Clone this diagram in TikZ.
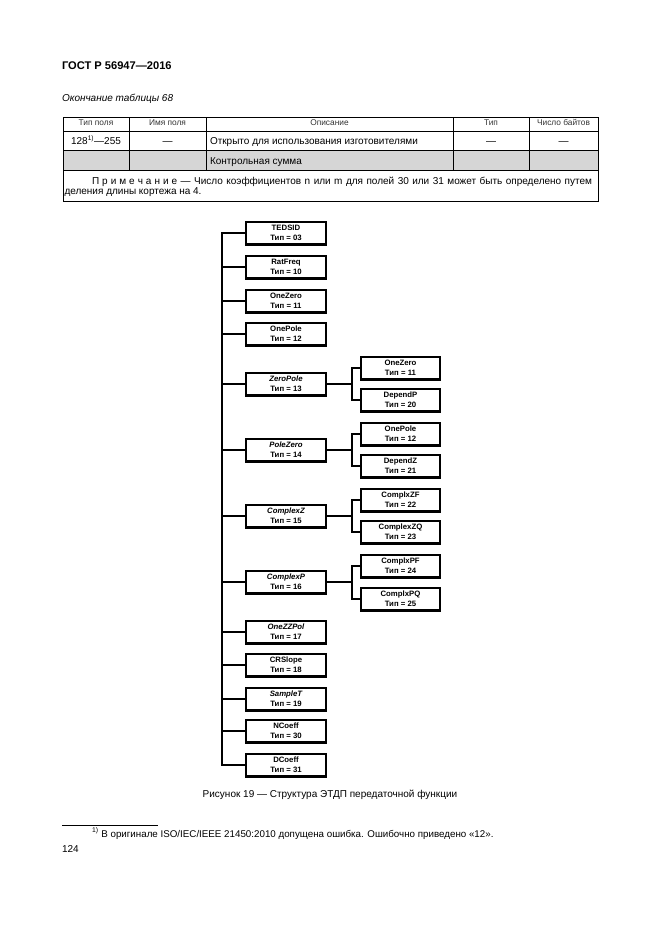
\documentclass[tikz,border=0pt]{standalone}
\usepackage{fontspec}
\setmainfont{Liberation Sans}
\newcommand\lsp{\hspace{0.3em}}
\newcommand\tipfont{\normalfont\fontsize{7}{9}\selectfont\bfseries}
\begin{document}
\begin{tikzpicture}[x=0.9pt,y=-0.9pt,
  every node/.style={inner sep=0pt, outer sep=0pt},
  box/.style={draw, line width=2pt, minimum width=71.5pt, minimum height=20.5pt, align=center, font=\fontsize{7}{9}\selectfont\bfseries},
  ibox/.style={box, font=\fontsize{7}{9}\selectfont\bfseries\itshape},
  link/.style={line width=1.7pt},
  grid/.style={line width=0.7pt},
  body/.style={font=\fontsize{9}{10}\selectfont, anchor=base},
  head/.style={font=\fontsize{7.5}{9}\selectfont, anchor=base, text=black!80},
]
\useasboundingbox (0,0) rectangle (661,935);

% header
\node[font=\fontsize{10}{12}\selectfont\bfseries, anchor=base west] (title) at (62,69) {ГОСТ Р 56947—2016};
\node[font=\fontsize{9}{10}\selectfont\itshape, anchor=base west] (cont) at (62,101) {Окончание таблицы 68};

% table
\fill[black!16] (63,150) rectangle (598,170);
\draw[grid] (63,117) rectangle (598,201);
\foreach \yy in {131,150,170} \draw[grid] (63,\yy) -- (598,\yy);
\foreach \xx in {129,206,453,529} \draw[grid] (\xx,117) -- (\xx,170);

\node[head] (h1) at (96,125.5) {Тип поля};
\node[head] (h2) at (167.5,125.5) {Имя поля};
\node[head] (h3) at (329.5,125.5) {Описание};
\node[head] (h4) at (491,125.5) {Тип};
\node[head] (h5) at (563.5,125.5) {Число байтов};

\node[body] (r1) at (96,144.5) {128\textsuperscript{1)}—255};
\node[body] (r2) at (167.5,144.5) {—};
\node[body, anchor=base west] (r3) at (210,144.5) {Открыто для использования изготовителями};
\node[body] (r4) at (491,144.5) {—};
\node[body] (r5) at (563.5,144.5) {—};
\node[body, anchor=base west] (s3) at (210,164.5) {Контрольная сумма};

\node[body, anchor=base west] (n1) at (92,184) {\makebox[450pt][s]{П\lsp р\lsp и\lsp м\lsp е\lsp ч\lsp а\lsp н\lsp и\lsp е — Число коэффициентов n или m для полей 30 или 31 может быть определено путем}};
\node[body, anchor=base west] (n2) at (64.5,194.5) {деления длины кортежа на 4.};

% diagram
\coordinate (trunk) at (222,0);
\coordinate (sub) at (352,0);

\node[box]  (m1)  at (286,233) {TEDSID\\Тип = 03};
\node[box]  (m2)  at (286,267) {RatFreq\\Тип = 10};
\node[box]  (m3)  at (286,301) {OneZero\\Тип = 11};
\node[box]  (m4)  at (286,334) {OnePole\\Тип = 12};
\node[ibox] (m5)  at (286,384) {ZeroPole\\\tipfont Тип = 13};
\node[ibox] (m6)  at (286,450) {PoleZero\\\tipfont Тип = 14};
\node[ibox] (m7)  at (286,516) {ComplexZ\\\tipfont Тип = 15};
\node[ibox] (m8)  at (286,582) {ComplexP\\\tipfont Тип = 16};
\node[ibox] (m9)  at (286,632) {OneZZPol\\\tipfont Тип = 17};
\node[box]  (m10) at (286,665) {CRSlope\\Тип = 18};
\node[ibox] (m11) at (286,699) {SampleT\\\tipfont Тип = 19};
\node[box]  (m12) at (286,731) {NCoeff\\Тип = 30};
\node[box]  (m13) at (286,765) {DCoeff\\Тип = 31};

\node[box] (c5a) at (400.5,368) {OneZero\\Тип = 11};
\node[box] (c5b) at (400.5,400) {DependP\\Тип = 20};
\node[box] (c6a) at (400.5,434) {OnePole\\Тип = 12};
\node[box] (c6b) at (400.5,466) {DependZ\\Тип = 21};
\node[box] (c7a) at (400.5,500) {ComplxZF\\Тип = 22};
\node[box] (c7b) at (400.5,532) {ComplexZQ\\Тип = 23};
\node[box] (c8a) at (400.5,566) {ComplxPF\\Тип = 24};
\node[box] (c8b) at (400.5,599) {ComplxPQ\\Тип = 25};

\draw[link] (m1.west) -- (m1.west -| trunk) -- (m13.west -| trunk) -- (m13.west);
\foreach \n in {m2,m3,m4,m5,m6,m7,m8,m9,m10,m11,m12}
  \draw[link] (\n.west -| trunk) -- (\n.west);
\foreach \p/\a/\b in {m5/c5a/c5b, m6/c6a/c6b, m7/c7a/c7b, m8/c8a/c8b} {
  \draw[link] (\p.east) -- (\p.east -| sub);
  \draw[link] (\a.west) -- (\a.west -| sub) -- (\b.west -| sub) -- (\b.west);
}

% caption and footnote
\node[body] (cap) at (330,797) {Рисунок 19 — Структура ЭТДП передаточной функции};
\coordinate (fl) at (62,825);
\coordinate (fr) at (158,825);
\draw[line width=0.6pt] (fl) -- (fr);
\node[body, font=\fontsize{8.8}{10}\selectfont, anchor=base west] (fn) at (92,837) {\textsuperscript{1)} В оригинале ISO/IEC/IEEE 21450:2010 допущена ошибка. Ошибочно приведено «12».};
\node[body, anchor=base west] (pg) at (62,852) {124};
\end{tikzpicture}
\end{document}
